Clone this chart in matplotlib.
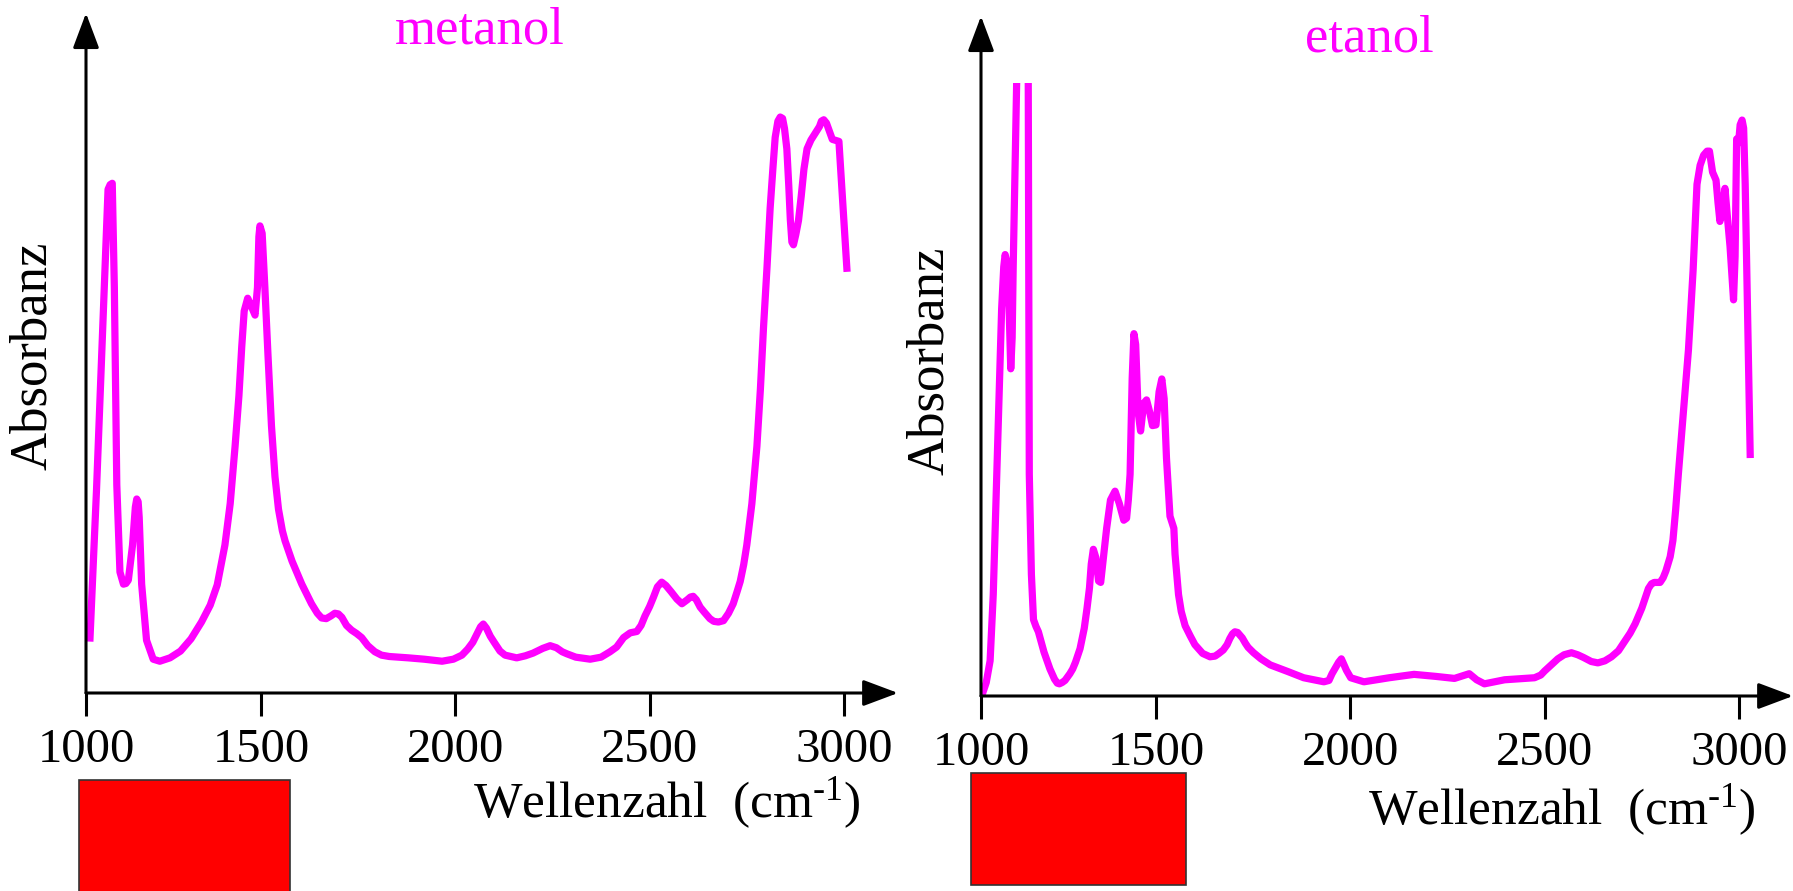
import numpy as np
import matplotlib
matplotlib.use('Agg')
import matplotlib.pyplot as plt
from matplotlib.patches import Rectangle, ArrowStyle

plt.rcParams['font.family'] = ['Liberation Serif', 'DejaVu Serif']
plt.rcParams['mathtext.default'] = 'regular'

# IR spectra (wavenumber in cm-1, absorbance in arbitrary units)
metanol_w = [1011, 1030, 1063, 1069, 1075, 1081, 1088, 1097, 1107, 1114, 1121, 1133, 1141,
             1145, 1149, 1152, 1159, 1173, 1192, 1211, 1240, 1270, 1300, 1330, 1355,
             1375, 1397, 1412, 1426, 1437, 1445, 1452, 1462, 1470, 1483, 1490, 1494,
             1497, 1503, 1510, 1518, 1527, 1536, 1545, 1555, 1562, 1580, 1605, 1630,
             1645, 1656, 1668, 1680, 1690, 1699, 1708, 1720, 1733, 1746, 1759, 1775,
             1793, 1810, 1830, 1879, 1920, 1966, 1995, 2017, 2032, 2045, 2058, 2065,
             2072, 2080, 2090, 2100, 2115, 2128, 2158, 2180, 2200, 2225, 2244, 2260,
             2275, 2287, 2310, 2347, 2375, 2398, 2415, 2433, 2450, 2467, 2478, 2488,
             2500, 2510, 2520, 2531, 2542, 2555, 2570, 2583, 2597, 2605, 2612, 2620,
             2630, 2640, 2655, 2665, 2677, 2690, 2703, 2715, 2725, 2733, 2742, 2750,
             2763, 2776, 2785, 2793, 2802, 2810, 2817, 2823, 2830, 2836, 2842, 2847,
             2853, 2858, 2862, 2866, 2870, 2876, 2883, 2890, 2897, 2905, 2915, 2926,
             2937, 2942, 2948, 2955, 2960, 2970, 2987, 3008]
metanol_a = [7.6, 30, 74.5, 75.2, 75.4, 60, 30.8, 17.9, 16.1, 16.2, 16.7, 21.9, 27.5,
             28.7, 28.3, 26.0, 16.1, 7.8, 5.0, 4.7, 5.2, 6.2, 8.0, 10.5, 13.0,
             16.0, 21.9, 28, 36.5, 44, 51.2, 56.5, 58.4, 57.5, 55.9, 60, 67.5,
             69.1, 68, 60, 50, 39.5, 32, 27.2, 24, 22.5, 19.5, 16.1, 13.2,
             11.8, 11.1, 11.0, 11.4, 11.8, 11.7, 11.2, 10.0, 9.3, 8.8, 8.2, 7.0,
             6.1, 5.6, 5.4, 5.2, 5.0, 4.7, 5.0, 5.6, 6.5, 7.5, 9.0, 9.8,
             10.2, 9.6, 8.4, 7.5, 6.2, 5.6, 5.2, 5.5, 5.9, 6.6, 7.0, 6.7,
             6.1, 5.8, 5.3, 5.0, 5.3, 6.1, 6.8, 8.2, 8.9, 9.1, 10.0, 11.4,
             12.8, 14.2, 15.7, 16.4, 15.9, 15.0, 13.9, 13.2, 13.8, 14.2, 14.3, 13.8,
             12.7, 12.0, 11.0, 10.6, 10.5, 10.7, 11.8, 13.2, 15.0, 16.5, 19.0, 21.9,
             28, 36.5, 45, 54.1, 63, 71.7, 77.5, 82.2, 84.6, 85.2, 85.0, 83.5,
             80.5, 75, 70, 66.7, 66.3, 67.8, 69.9, 73.5, 77.5, 80.5, 81.8, 82.8,
             83.8, 84.6, 84.8, 84.3, 83.5, 81.9, 81.6, 62.3]

etanol_w = [1002, 1015, 1026, 1035, 1045, 1059, 1065, 1069, 1075, 1080, 1085, 1089,
            1092, 1098, 1102, 1108, 1128, 1135, 1138, 1144, 1150, 1157, 1164, 1172,
            1180, 1190, 1197, 1210, 1218, 1224, 1232, 1240, 1254, 1262, 1270, 1283,
            1295, 1303, 1310, 1315, 1321, 1328, 1336, 1342, 1350, 1359, 1370, 1383,
            1395, 1408, 1416, 1421, 1426, 1432, 1437, 1442, 1449, 1456, 1465, 1473,
            1482, 1490, 1500, 1508, 1515, 1521, 1527, 1536, 1546, 1549, 1552, 1558,
            1565, 1575, 1588, 1600, 1620, 1639, 1652, 1662, 1673, 1683, 1690, 1697,
            1703, 1710, 1716, 1722, 1730, 1737, 1751, 1770, 1794, 1840, 1880, 1932,
            1945, 1953, 1970, 1977, 1984, 1990, 2001, 2035, 2100, 2164, 2220, 2268,
            2306, 2325, 2345, 2397, 2474, 2490, 2500, 2517, 2534, 2550, 2569, 2585,
            2600, 2620, 2637, 2655, 2672, 2690, 2705, 2720, 2733, 2750, 2767, 2775,
            2782, 2797, 2805, 2812, 2823, 2830, 2837, 2844, 2857, 2870, 2882, 2892,
            2900, 2909, 2918, 2924, 2932, 2941, 2946, 2951, 2957, 2964, 2970, 2977,
            2986, 2990, 2994, 2999, 3003, 3008, 3012, 3016, 3029]
etanol_a = [0, 2.0, 5.2, 15, 32.8, 57.3, 63.5, 65.3, 64, 58, 48.4, 53,
            63.5, 80, 91, 120, 120, 91, 32.8, 18, 11.3, 10.3, 9.5, 8.0,
            6.5, 5.0, 4.0, 2.5, 1.9, 1.8, 2.0, 2.3, 3.3, 4.0, 5.0, 7.0,
            10, 13, 16, 19.5, 21.7, 20.5, 17, 16.8, 20.5, 24.8, 29, 30.3,
            28.5, 26, 26.3, 29, 32.8, 47, 53.6, 52, 42, 39.2, 43.3, 43.8,
            42, 40, 40.1, 45, 46.9, 44, 35.2, 26.6, 24.8, 21, 19, 15.0,
            12.5, 10.4, 8.9, 7.6, 6.3, 5.8, 5.9, 6.3, 6.8, 7.6, 8.5, 9.2,
            9.5, 9.4, 9.0, 8.6, 7.8, 7.2, 6.4, 5.5, 4.6, 3.6, 2.7, 2.1,
            2.3, 3.3, 5.0, 5.5, 4.6, 3.8, 2.7, 2.1, 2.7, 3.2, 2.9, 2.6,
            3.3, 2.4, 1.8, 2.4, 2.7, 3.1, 3.7, 4.6, 5.5, 6.1, 6.4, 6.1,
            5.7, 5.1, 4.9, 5.2, 5.8, 6.7, 8.0, 9.3, 10.7, 13, 15.9, 16.6,
            16.8, 16.8, 17.5, 18.5, 20.6, 23, 27.5, 32.8, 42, 51.2, 63, 75.7,
            78.5, 80, 80.6, 80.6, 77.5, 76.3, 73, 70.2, 72, 75.1, 71, 66.5,
            58.6, 65, 82.4, 81.8, 84.5, 85.2, 84, 75.7, 35.2]

xticks = [1000, 1500, 2000, 2500, 3000]
titles = ['metanol', 'etanol']


# the wavenumber axis in the original is not evenly spaced below 1500
def fwd(w):
    w = np.asarray(w, dtype=float)
    return np.where(w < 1500, (w - 1000) * 0.35, 175 + (w - 1500) * 0.3887)


def inv(p):
    p = np.asarray(p, dtype=float)
    return np.where(p < 175, 1000 + p / 0.35, 1500 + (p - 175) / 0.3887)


W, H = 1793, 891
fig = plt.figure(figsize=(W / 100, H / 100), dpi=100)

magenta = '#FF00FF'
panels = [
    (86, 693, metanol_w, metanol_a, titles[0], (480, 30), (33, 356), (667, 803), (79, 780, 290, 900)),
    (981, 696, etanol_w, etanol_a, titles[1], (1369, 38), (930, 361), (1562, 810), (971, 773, 1186, 885)),
]

for x0, y0, wx, ay, title, tpos, ylpos, xlpos, rect in panels:
    ax = fig.add_axes([x0 / W, (H - y0) / H, 812 / W, 613 / H])
    ax.set_xscale('function', functions=(fwd, inv))
    ax.plot(wx, ay, color=magenta, lw=5.2, solid_joinstyle='round', solid_capstyle='butt')
    ax.set_xlim(1000, 3139)
    ax.set_ylim(0, 613 / 6.76)
    for s in ax.spines.values():
        s.set_visible(False)
    ax.set_xticks(xticks)
    ax.set_xticklabels([str(t) for t in xticks])
    ax.xaxis.set_minor_locator(matplotlib.ticker.NullLocator())
    ax.set_yticks([])
    ax.tick_params(axis='x', direction='out', length=16.5, width=2.2, pad=9, labelsize=35)
    style = ArrowStyle('-|>', head_length=0.4, head_width=0.15)
    ax.annotate('', xy=(1, 0), xytext=(0, 0), xycoords='axes fraction',
                arrowprops=dict(arrowstyle=style, lw=2.2, color='black',
                                mutation_scale=54, shrinkA=0, shrinkB=0),
                annotation_clip=False)
    ax.annotate('', xy=(0, 1.109), xytext=(0, 0), xycoords='axes fraction',
                arrowprops=dict(arrowstyle=style, lw=2.2, color='black',
                                mutation_scale=54, shrinkA=0, shrinkB=0),
                annotation_clip=False)

    fig.text(tpos[0] / W, 1 - tpos[1] / H, title, color=magenta, fontsize=38,
             ha='center', va='center')
    fig.text(ylpos[0] / W, 1 - ylpos[1] / H, 'Absorbanz', fontsize=38,
             rotation=90, ha='center', va='center')
    fig.text(xlpos[0] / W, 1 - xlpos[1] / H, 'Wellenzahl  (cm$^{\u20101}$)', fontsize=37,
             ha='center', va='center')
    rx0, ry0, rx1, ry1 = rect
    fig.add_artist(Rectangle((rx0 / W, 1 - ry1 / H), (rx1 - rx0) / W, (ry1 - ry0) / H,
                             transform=fig.transFigure, facecolor='#FF0000',
                             edgecolor='#333333', lw=1.2))

fig.savefig('out.png', dpi=100)
plt.close(fig)
